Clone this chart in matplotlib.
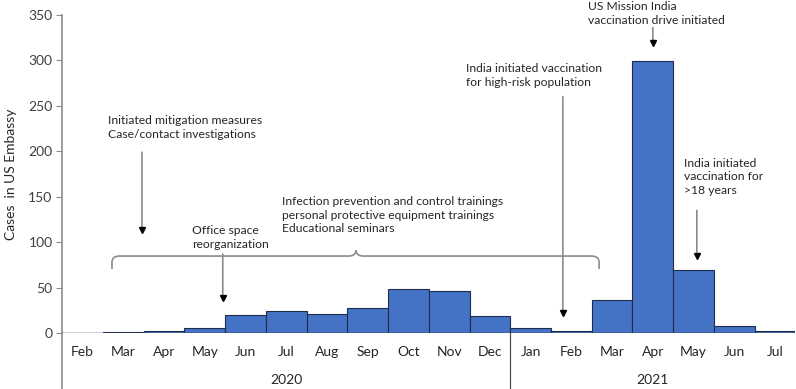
import matplotlib
matplotlib.use("Agg")
import matplotlib.pyplot as plt
from matplotlib.path import Path
from matplotlib.patches import PathPatch
from matplotlib.lines import Line2D

months = ["Feb", "Mar", "Apr", "May", "Jun", "Jul", "Aug", "Sep", "Oct", "Nov", "Dec",
          "Jan", "Feb", "Mar", "Apr", "May", "Jun", "Jul"]
cases = [0, 1, 2, 5, 20, 24, 21, 27, 48, 46, 19, 6, 2, 36, 299, 69, 8, 2]
years = ["2020", "2021"]
year_span = [(0, 10), (11, 17)]

BAR = "#4472C4"
TXT = "#262626"
GRAY = "#8c8c8c"

plt.rcParams['font.family'] = ['Lato', 'DejaVu Sans']

fig = plt.figure(figsize=(7.96, 3.89), dpi=100)
ax = fig.add_axes([62.3 / 796, (389 - 333) / 389, (795.4 - 62.3) / 796, 318 / 389])

x = list(range(len(months)))
ax.bar(x, cases, width=1.0, color=BAR, edgecolor="#1f2d4d", linewidth=0.8, zorder=3)
ax.set_xlim(-0.5, len(months) - 0.5)
ax.set_ylim(0, 350)
ax.set_yticks(range(0, 351, 50))
ax.tick_params(axis='y', labelsize=10, length=4, width=0.8, pad=3, colors=GRAY)
for lbl in ax.get_yticklabels():
    lbl.set_color("#404040")
ax.set_xticks([])
ax.set_ylabel("Cases  in US Embassy", fontsize=10, color=TXT, labelpad=8)

for s in ["top", "right", "bottom", "left"]:
    ax.spines[s].set_visible(False)

# y axis line running down through the category area
ax.add_line(Line2D([0, 0], [-0.18, 1.0], transform=ax.transAxes, color=GRAY, lw=1.2, clip_on=False))
# x axis line at zero
ax.axhline(0, color="#404040", lw=1.0, zorder=4)
# year separator
tr = ax.get_xaxis_transform()
ax.add_line(Line2D([10.5, 10.5], [0, -0.18], transform=tr, color="#404040", lw=0.8, clip_on=False))

for i, m in enumerate(months):
    ax.text(i, -0.06, m, transform=tr, ha="center", va="center", fontsize=10, color=TXT)
for yr, (a, b) in zip(years, year_span):
    ax.text((a + b) / 2, -0.148, yr, transform=tr, ha="center", va="center", fontsize=10, color=TXT)


def arrow(x0, y0, y1):
    ax.annotate("", xy=(x0, y1), xytext=(x0, y0), annotation_clip=False,
                arrowprops=dict(arrowstyle="-", color=GRAY, lw=1.2, shrinkA=0, shrinkB=0))
    ax.plot([x0], [y1], marker="v", color="black", markersize=4, clip_on=False, zorder=5)


def note(x0, y0, s):
    ax.text(x0, y0, s, ha="left", va="top", fontsize=8.7, color=TXT, linespacing=1.3, clip_on=False)


note(0.62, 240, "Initiated mitigation measures\nCase/contact investigations")
arrow(1.457, 199, 113)

note(2.68, 119, "Office space\nreorganization")
arrow(3.44, 87, 38)

note(4.89, 151, "Infection prevention and control trainings\npersonal protective equipment trainings\nEducational seminars")

note(9.41, 297, "India initiated vaccination\nfor high-risk population")
arrow(11.79, 260, 22)

note(12.41, 365, "US Mission India\nvaccination drive initiated")
arrow(14.0, 336, 319)

note(14.76, 193, "India initiated\nvaccination for\n>18 years")
arrow(15.08, 135, 85)

# curly brace over the 2020 measures
x0, x1, xm = 0.72, 12.68, 6.71
yb, ye, yt = 84.7, 70.4, 91.3
rx, ry = 0.18, 7
verts = [(x0, ye), (x0, yb - ry), (x0, yb), (x0 + rx, yb),
         (xm - rx, yb), (xm, yb), (xm, yt),
         (xm, yb), (xm + rx, yb),
         (x1 - rx, yb), (x1, yb), (x1, yb - ry), (x1, ye)]
codes = [Path.MOVETO, Path.LINETO, Path.CURVE3, Path.CURVE3,
         Path.LINETO, Path.CURVE3, Path.CURVE3,
         Path.CURVE3, Path.CURVE3,
         Path.LINETO, Path.CURVE3, Path.CURVE3, Path.LINETO]
ax.add_patch(PathPatch(Path(verts, codes), fill=False, edgecolor=GRAY, lw=1.2, zorder=4))

fig.savefig("out.png", dpi=100)
